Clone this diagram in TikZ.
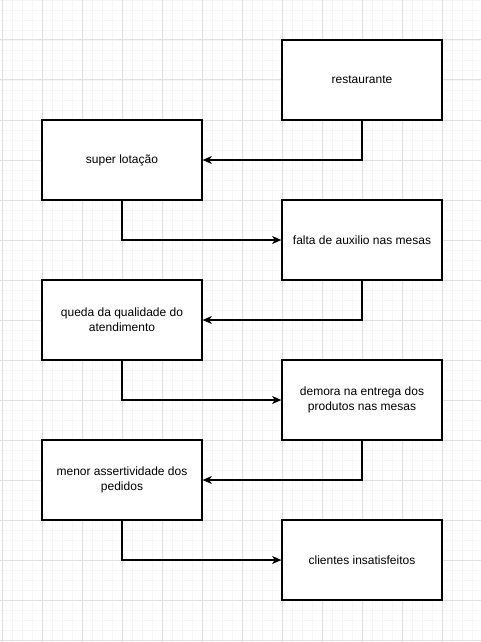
\documentclass[tikz,border=0pt]{standalone}
\usepackage{fontspec}
\setmainfont{Liberation Sans}
\usetikzlibrary{arrows.meta}
\definecolor{minorgrid}{HTML}{F6F6F6}
\definecolor{majorgrid}{HTML}{E0E0E0}
\begin{document}
\begin{tikzpicture}[x=0.75pt,y=-0.75pt,
  box/.style={draw=black, line width=0.9pt, fill=white, minimum width=120pt, minimum height=60pt,
    align=center, inner sep=0pt, font=\fontsize{9}{11.5}\selectfont},
  conn/.style={draw=black, line width=0.9pt, -{Stealth[length=7pt,width=6pt,inset=2pt]}}]
\useasboundingbox (0,0) rectangle (481,642);
\fill[white] (0,0) rectangle (481,642);
% minor grid
\foreach \i in {0,...,48} {\draw[minorgrid, line width=0.6pt] ({2+10*\i},0) -- ({2+10*\i},642);}
\foreach \j in {0,...,64} {\draw[minorgrid, line width=0.6pt] (0,{10*\j}) -- (481,{10*\j});}
% major grid
\foreach \i in {0,...,12} {\draw[majorgrid, line width=0.75pt] ({2+40*\i},0) -- ({2+40*\i},642);}
\foreach \j in {0,...,16} {\draw[majorgrid, line width=0.75pt] (0,{40*\j}) -- (481,{40*\j});}
% nodes
\node[box] (n1) at (362,80) {restaurante};
\node[box] (n2) at (122,160) {super lotação};
\node[box] (n3) at (362,240) {falta de auxilio nas mesas};
\node[box] (n4) at (122,320) {queda da qualidade do\\atendimento};
\node[box] (n5) at (362,400) {demora na entrega dos\\produtos nas mesas};
\node[box] (n6) at (122,480) {menor assertividade dos\\pedidos};
\node[box] (n7) at (362,560) {clientes insatisfeitos};
% connectors
\draw[conn] (n1.south) |- (n2.east);
\draw[conn] (n2.south) |- (n3.west);
\draw[conn] (n3.south) |- (n4.east);
\draw[conn] (n4.south) |- (n5.west);
\draw[conn] (n5.south) |- (n6.east);
\draw[conn] (n6.south) |- (n7.west);
\end{tikzpicture}
\end{document}
